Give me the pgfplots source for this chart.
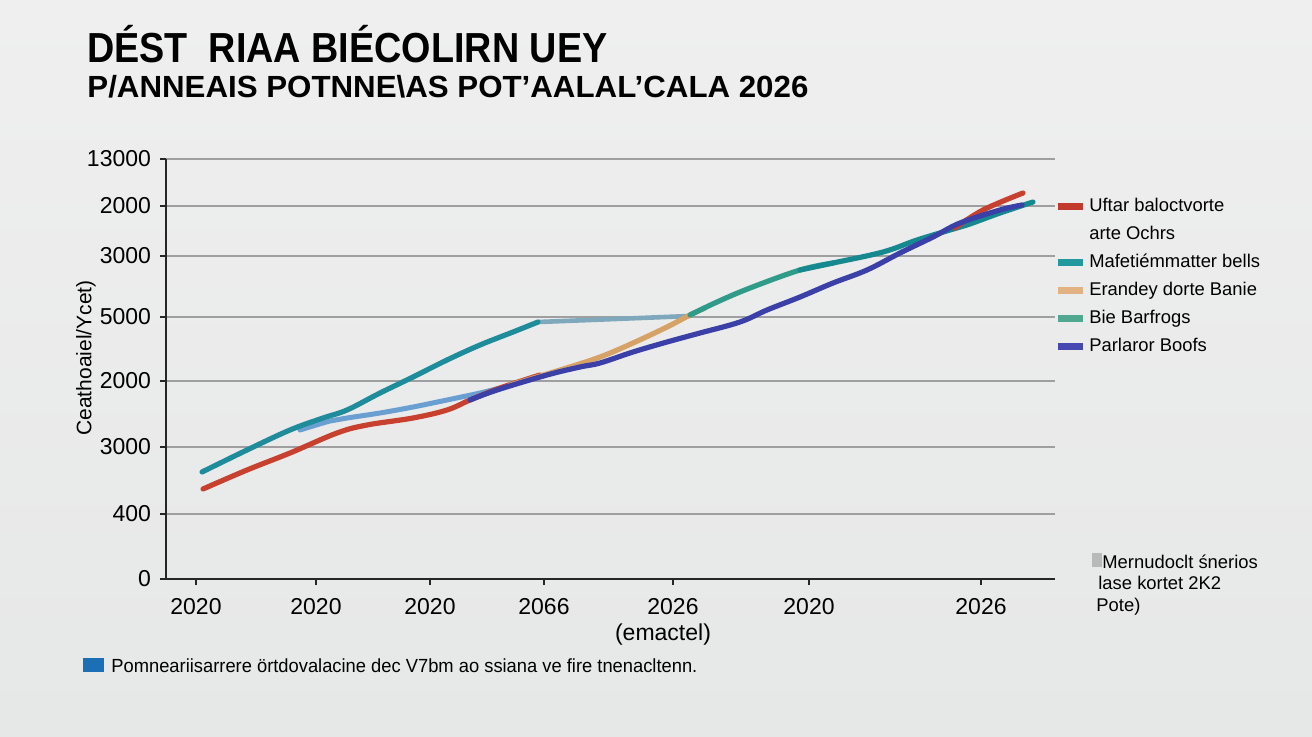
\documentclass[border=0pt]{standalone}
\usepackage{fontspec}
\setmainfont{Liberation Sans}
\usepackage{graphicx}
\usepackage{pgfplots}
\pgfplotsset{compat=1.18}
\definecolor{bgtop}{HTML}{EFEFEF}
\definecolor{bgbot}{HTML}{E6E7E7}
\definecolor{cred}{HTML}{C8402E}
\definecolor{cteal}{HTML}{1F8C9B}
\definecolor{clight}{HTML}{7FA8BC}
\definecolor{cblu}{HTML}{6A9FD2}
\definecolor{ctan}{HTML}{D6A266}
\definecolor{cgreen}{HTML}{2E9C88}
\definecolor{cteal2}{HTML}{168890}
\definecolor{cblue}{HTML}{3A40A8}
\definecolor{lred}{HTML}{C23A2C}
\definecolor{lteal}{HTML}{22999F}
\definecolor{ltan}{HTML}{E2B282}
\definecolor{lgreen}{HTML}{50A890}
\definecolor{lblue}{HTML}{4448B0}
\definecolor{noteblue}{HTML}{1A6FB5}
\begin{document}
\begin{tikzpicture}
\shade[top color=bgtop, bottom color=bgbot] (0pt,0pt) rectangle (656pt,368pt);
\path[use as bounding box] (0pt,0pt) rectangle (656pt,368pt);
\begin{axis}[
  at={(83pt,78.5pt)}, anchor=south west,
  scale only axis, width=444.5pt, height=210pt,
  xmin=166, xmax=1055, ymin=0, ymax=420,
  axis x line*=bottom, axis y line*=left,
  axis line style={black!85, line width=0.9pt, -},
  xtick={196,316,430,544,673,809,981},
  xticklabels={2020,2020,2020,2066,2026,2020,2026},
  ytick={0,65,132,198,262,323,373,420},
  yticklabels={0,400,3000,2000,5000,3000,2000,13000},
  ymajorgrids, grid style={gray!75, line width=0.6pt},
  tick align=outside, major tick length=3pt,
  tick style={black!85, line width=0.8pt},
  ticklabel style={font=\fontsize{11.5}{13}\selectfont},
  xticklabel style={yshift=-3pt},
  yticklabel style={xshift=-1pt},
  /pgf/number format/assume math mode=true,
  clip=false,
  legend style={at={(axis cs:1054,382)}, anchor=north west, draw=none, fill=none,
    inner sep=0pt, font=\fontsize{9.2}{11}\selectfont, row sep=5pt,
    cells={anchor=west}, nodes={inner sep=0pt, text height=6.8pt, text depth=2.2pt}},
  legend image code/.code={\draw[line width=3.5pt,#1] (0pt,0pt) -- (12.5pt,0pt); \path (15.5pt,0pt);},
]
% light flat segment
\addplot[clight, line width=2.3pt, smooth, tension=0.5, line cap=round, forget plot]
  coordinates {(538,257) (590,259) (640,261) (690,263)};
% light blue branch
\addplot[cblu, line width=2.5pt, smooth, tension=0.6, line cap=round, forget plot]
  coordinates {(300,149) (330,158) (347,161) (380,166) (413,172) (447,179) (480,186) (500,191)};
% red main
\addplot[cred, line width=2.6pt, smooth, tension=0.6, line cap=round, forget plot]
  coordinates {(203,90) (247,109) (290,126) (337,146) (367,154) (413,161) (447,169) (470,179) (500,191) (540,204)};
% teal first
\addplot[cteal, line width=2.6pt, smooth, tension=0.6, line cap=round, forget plot]
  coordinates {(202,107) (247,129) (290,149) (323,161) (347,169) (380,186) (413,202) (447,219) (480,234) (513,247) (538,257)};
% tan
\addplot[ctan, line width=2.6pt, smooth, tension=0.6, line cap=round, forget plot]
  coordinates {(510,194) (560,209) (600,222) (633,236) (667,252) (690,264) (705,271)};
% green-teal
\addplot[cgreen, line width=2.6pt, smooth, tension=0.6, line cap=round, forget plot]
  coordinates {(690,264) (717,277) (750,291) (800,309) (833,316)};
\addplot[cteal2, line width=2.6pt, smooth, tension=0.6, line cap=round, forget plot]
  coordinates {(800,309) (833,316) (883,327) (917,339) (950,349) (967,354) (1000,366) (1033,377)};
% red end
\addplot[cred, line width=2.6pt, smooth, tension=0.6, line cap=round, forget plot]
  coordinates {(955,351) (983,369) (1023,386)};
% blue
\addplot[cblue, line width=2.6pt, smooth, tension=0.6, line cap=round, forget plot]
  coordinates {(470,179) (497,189) (547,204) (580,212) (600,216) (633,227) (667,237) (700,246) (740,257) (767,269) (800,282) (833,296) (867,309) (900,326) (933,342) (960,356) (1000,369) (1022,374)};
% legend
\addlegendimage{lred}\addlegendentry{Uftar baloctvorte}
\addlegendimage{empty legend}\addlegendentry{arte Ochrs}
\addlegendimage{lteal}\addlegendentry{Mafetiémmatter bells}
\addlegendimage{ltan}\addlegendentry{Erandey dorte Banie}
\addlegendimage{lgreen}\addlegendentry{Bie Barfrogs}
\addlegendimage{lblue}\addlegendentry{Parlaror Boofs}
\end{axis}
% titles
\node[anchor=base west, inner sep=0pt] at (43.5pt,336.7pt)
  {\resizebox{260pt}{\height}{\fontsize{21}{24}\selectfont\bfseries DÉST\ \ RIAA BIÉCOLIRN UEY}};
\node[anchor=base west, inner sep=0pt] at (43.5pt,319.5pt)
  {\resizebox{360.5pt}{\height}{\fontsize{15.3}{18}\selectfont\bfseries P/ANNEAIS POTNNE\textbackslash AS POT'AALAL'CALA 2026}};
% y label
\node[rotate=90, anchor=center, inner sep=0pt] at (43pt,189pt) {\fontsize{10.5}{12}\selectfont Ceathoaiel/Ycet)};
% x sublabel
\node[anchor=base, inner sep=0pt] at (331.5pt,48pt) {\fontsize{11.5}{13}\selectfont (emactel)};
% bottom note
\fill[noteblue] (41.5pt,32pt) rectangle (52pt,39pt);
\node[anchor=base west, inner sep=0pt] at (55.5pt,32pt)
  {\resizebox{293pt}{\height}{\fontsize{9.5}{11}\selectfont Pomneariisarrere örtdovalacine dec V7bm ao ssiana ve fire tnenacltenn.}};
% right note
\fill[gray!55] (546pt,84.5pt) rectangle (551pt,91.5pt);
\node[anchor=base west, inner sep=0pt] at (551pt,84pt) {\fontsize{9.2}{11}\selectfont Mernudoclt śnerios};
\node[anchor=base west, inner sep=0pt] at (549pt,73.5pt) {\fontsize{9.2}{11}\selectfont lase kortet 2K2};
\node[anchor=base west, inner sep=0pt] at (548pt,62.5pt) {\fontsize{9.2}{11}\selectfont Pote)};
\end{tikzpicture}
\end{document}
